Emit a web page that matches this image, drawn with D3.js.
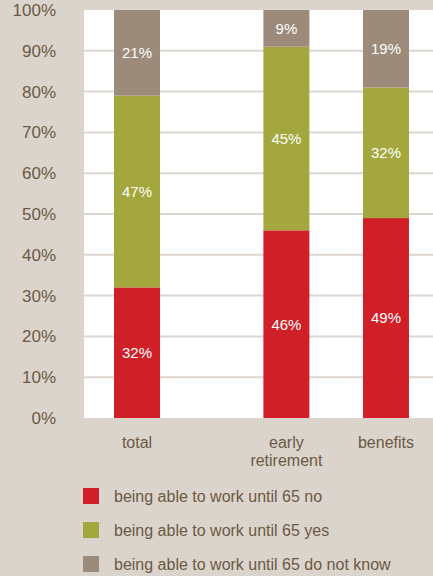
<!DOCTYPE html>
<html>
<head>
<meta charset="utf-8">
<script src="https://cdn.jsdelivr.net/npm/d3@7"></script>
<style>
  html, body { margin: 0; padding: 0; background: #dbd4cc; }
  svg { display: block; font-family: "Liberation Sans", Arial, sans-serif; }
</style>
</head>
<body>
<svg id="chart" width="433" height="576"></svg>
<script>
// Survey answers per group, in percent
const categories = ["total", "early retirement", "benefits"];
const answerNo = [32, 46, 49];
const answerYes = [47, 45, 32];
const answerDontKnow = [21, 9, 19];
const seriesNames = [
  "being able to work until 65 no",
  "being able to work until 65 yes",
  "being able to work until 65 do not know"
];
const yTicks = [0, 10, 20, 30, 40, 50, 60, 70, 80, 90, 100];

const colors = ["#d01f26", "#a3a73e", "#9c8b7a"];
const textColor = "#6b5945";

const svg = d3.select("#chart");
const W = 433;
const plot = { left: 84, right: 433, top: 10, bottom: 418 };

// Groups sit on a grid of slots, leaving empty slots between "total" and the others
const slotOf = { "total": 0, "early retirement": 3, "benefits": 5 };
const x = d3.scaleBand().domain(d3.range(6)).range([112, 411]).paddingInner(0.075).paddingOuter(0.04);
const y = d3.scaleLinear().domain([0, 100]).range([plot.bottom, plot.top]);

// white plotting area
svg.append("rect")
  .attr("x", plot.left).attr("y", plot.top)
  .attr("width", plot.right - plot.left).attr("height", plot.bottom - plot.top)
  .attr("fill", "#ffffff");

// horizontal gridlines
svg.append("g").selectAll("line")
  .data(yTicks.filter(t => t > 0 && t < 100))
  .join("line")
  .attr("x1", plot.left).attr("x2", plot.right)
  .attr("y1", d => y(d)).attr("y2", d => y(d))
  .attr("stroke", "#dcd6d0").attr("stroke-width", 2);

// y axis tick labels
const yAxis = d3.axisLeft(y).tickValues(yTicks).tickFormat(d => d + "%").tickSize(0).tickPadding(0);
const yg = svg.append("g").attr("transform", "translate(56,0)").call(yAxis);
yg.select(".domain").remove();
yg.selectAll("text")
  .attr("fill", textColor)
  .style("font-size", "17px")
  .style("font-family", "'Liberation Sans', Arial, sans-serif");

// stacked bars
const rows = categories.map((c, i) => ({ cat: c, no: answerNo[i], yes: answerYes[i], dk: answerDontKnow[i] }));
const stack = d3.stack().keys(["no", "yes", "dk"]);
const layers = stack(rows);

const bx = d => x(slotOf[d.data.cat]);
const bw = 46;

layers.forEach((layer, li) => {
  const g = svg.append("g");
  g.selectAll("rect")
    .data(layer)
    .join("rect")
    .attr("x", d => bx(d) + (x.bandwidth() - bw) / 2)
    .attr("width", bw)
    .attr("y", d => y(d[1]))
    .attr("height", d => y(d[0]) - y(d[1]))
    .attr("fill", colors[li]);
  g.selectAll("text")
    .data(layer)
    .join("text")
    .attr("x", d => bx(d) + x.bandwidth() / 2)
    .attr("y", d => (y(d[0]) + y(d[1])) / 2)
    .attr("dy", "0.36em")
    .attr("text-anchor", "middle")
    .attr("fill", "#ffffff")
    .style("font-size", "15px")
    .text(d => (d[1] - d[0]) + "%");
});

// category labels (wrapped onto two lines where needed)
const catLines = { "total": ["total"], "early retirement": ["early", "retirement"], "benefits": ["benefits"] };
const cg = svg.append("g");
categories.forEach(c => {
  const t = cg.append("text")
    .attr("x", x(slotOf[c]) + x.bandwidth() / 2)
    .attr("y", 448)
    .attr("text-anchor", "middle")
    .attr("fill", textColor)
    .style("font-size", "16px");
  catLines[c].forEach((line, i) => {
    t.append("tspan").attr("x", x(slotOf[c]) + x.bandwidth() / 2).attr("dy", i === 0 ? 0 : 17.5).text(line);
  });
});

// legend
const legend = svg.append("g").attr("transform", "translate(83,488)");
const item = legend.selectAll("g").data(seriesNames).join("g")
  .attr("transform", (d, i) => `translate(0,${i * 34})`);
item.append("rect").attr("width", 16).attr("height", 16).attr("fill", (d, i) => colors[i]);
item.append("text")
  .attr("x", 31).attr("y", 8).attr("dy", "0.36em")
  .attr("fill", textColor)
  .style("font-size", "16px")
  .text(d => d);
</script>
</body>
</html>
